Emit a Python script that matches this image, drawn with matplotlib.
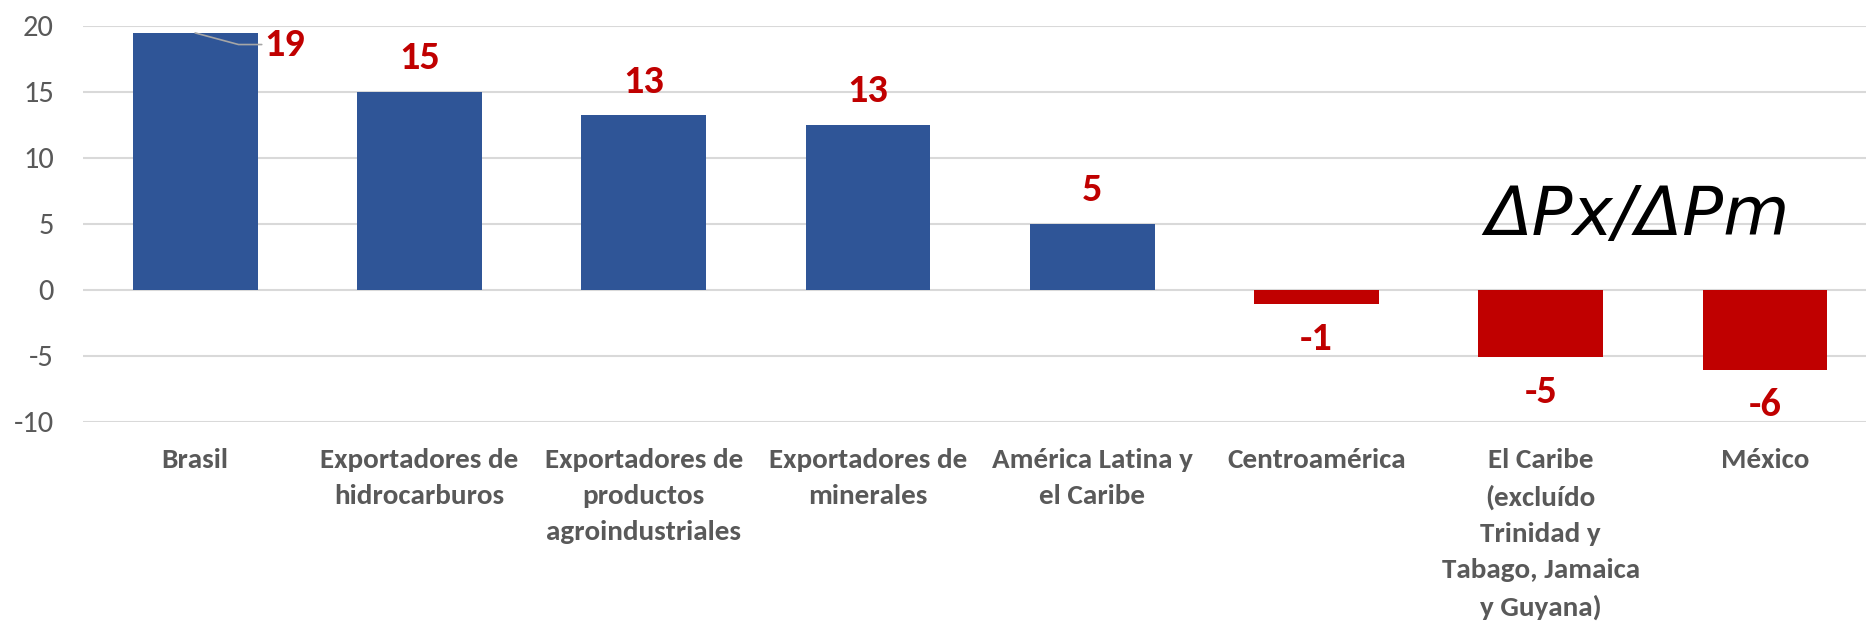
import matplotlib
matplotlib.use("Agg")
import matplotlib.pyplot as plt
from matplotlib import font_manager as fm

categories = [
    "Brasil",
    "Exportadores de\nhidrocarburos",
    "Exportadores de\nproductos\nagroindustriales",
    "Exportadores de\nminerales",
    "América Latina y\nel Caribe",
    "Centroamérica",
    "El Caribe\n(excluído\nTrinidad y\nTabago, Jamaica\ny Guyana)",
    "México",
]
values = [19.45, 15.0, 13.2, 12.5, 5.0, -1.1, -5.1, -6.1]
labels = ["19", "15", "13", "13", "5", "-1", "-5", "-6"]
yticks = [-10, -5, 0, 5, 10, 15, 20]

BLUE = "#2F5597"
RED = "#C00000"
GRAY = "#595959"
GRID = "#D9D9D9"

avail = {f.name for f in fm.fontManager.ttflist}
fams = [f for f in ["Carlito", "Liberation Sans Narrow", "Open Sans", "DejaVu Sans"] if f in avail]
plt.rcParams["font.family"] = fams

fig = plt.figure(figsize=(18.66, 6.26), dpi=100)
ax = fig.add_axes([0.0445, 0.3264, 0.9555, 0.6326])

x = list(range(len(categories)))
colors = [BLUE if v >= 0 else RED for v in values]
ax.bar(x, values, width=0.556, color=colors, zorder=3)

ax.set_xlim(-0.5, 7.45)
ax.set_ylim(-10, 20)
ax.set_yticks(yticks)
ax.set_yticklabels([str(t) for t in yticks], fontsize=22, color=GRAY)
ax.tick_params(axis="y", length=0, pad=21)
ax.grid(axis="y", color=GRID, linewidth=1.5, zorder=0)
for s in ax.spines.values():
    s.set_visible(False)

ax.set_xticks(x)
ax.set_xticklabels(categories, fontsize=21, fontweight="bold", color=GRAY,
                   linespacing=1.6, va="top")
ax.tick_params(axis="x", length=0, pad=19)

# data labels
for i, (v, lab) in enumerate(zip(values, labels)):
    if i == 0:
        ax.annotate(lab, xy=(i, v), xytext=(i + 0.40, 18.57), ha="center", va="center",
                    fontsize=29, fontweight="bold", color=RED, annotation_clip=False,
                    arrowprops=dict(arrowstyle="-", color="#A6A6A6", lw=1.2,
                                    shrinkA=0, shrinkB=0,
                                    connectionstyle="angle,angleA=0,angleB=-15,rad=0",
                                    relpos=(0, 0.5)))
    else:
        off = 24 if v >= 0 else -25
        ax.annotate(lab, xy=(i, v), xytext=(0, off), textcoords="offset points",
                    ha="center", va="center", fontsize=29, fontweight="bold",
                    color=RED, annotation_clip=False)

ax.text(6.43, 5.6, "ΔPx/ΔPm", ha="center", va="center", fontsize=49,
        style="italic", color="black", family="DejaVu Sans", zorder=5)

fig.savefig("out.png", dpi=100)
